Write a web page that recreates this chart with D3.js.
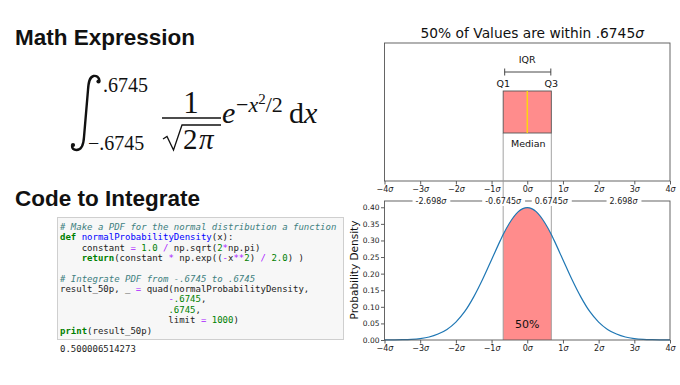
<!DOCTYPE html>
<html>
<head>
<meta charset="utf-8">
<script src="https://cdnjs.cloudflare.com/ajax/libs/d3/7.8.5/d3.min.js"></script>
<style>
  body { margin: 0; background: white; }
  svg { display: block; }
</style>
</head>
<body>
<svg id="slide" width="680" height="385"></svg>
<script>
// datos
const sigmaTicks = [-4, -3, -2, -1, 0, 1, 2, 3, 4]
const densityTicks = [0, 0.05, 0.10, 0.15, 0.20, 0.25, 0.30, 0.35, 0.40]
const refTicks = [-2.698, -0.6745, 0.6745, 2.698]
const refLabels = ['-2.698', '-0.6745', '0.6745', '2.698']
const boxValues = [-0.6745, 0, 0.6745] // Q1, mediana, Q3
// curva (x en sigmas, densidad)
const curveX = [-4, -3.75, -3.5, -3.25, -3, -2.75, -2.5, -2.25, -2, -1.75, -1.5, -1.25, -1, -0.75, -0.6745, -0.5, -0.25, 0,
                0.25, 0.5, 0.6745, 0.75, 1, 1.25, 1.5, 1.75, 2, 2.25, 2.5, 2.75, 3, 3.25, 3.5, 3.75, 4]
const curveY = [0.0001, 0.0004, 0.0009, 0.002, 0.0044, 0.009, 0.018, 0.032, 0.054, 0.086, 0.130, 0.183, 0.242, 0.301, 0.318, 0.352, 0.387, 0.399,
                0.387, 0.352, 0.318, 0.301, 0.242, 0.183, 0.130, 0.086, 0.054, 0.032, 0.018, 0.009, 0.0044, 0.002, 0.0009, 0.0004, 0.0001]
const areaLabel = '50%'

// codigo python (texto, estilo)
const codeLines = [
  [['# Make a PDF for the normal distribution a function', 'c']],
  [['def', 'k'], [' ', 'n'], ['normalProbabilityDensity', 'f'], ['(x):', 'n']],
  [['    constant ', 'n'], ['=', 'o'], [' ', 'n'], ['1.0', 'm'], [' ', 'n'], ['/', 'o'], [' np.sqrt(', 'n'], ['2', 'm'], ['*', 'o'], ['np.pi)', 'n']],
  [['    ', 'n'], ['return', 'k'], ['(constant ', 'n'], ['*', 'o'], [' np.exp((', 'n'], ['-', 'o'], ['x', 'n'], ['**', 'o'], ['2', 'm'], [') ', 'n'], ['/', 'o'], [' ', 'n'], ['2.0', 'm'], [') )', 'n']],
  [],
  [['# Integrate PDF from -.6745 to .6745', 'c']],
  [['result_50p, _ ', 'n'], ['=', 'o'], [' quad(normalProbabilityDensity,', 'n']],
  [['                    ', 'n'], ['-', 'o'], ['.6745', 'm'], [',', 'n']],
  [['                    ', 'n'], ['.6745', 'm'], [',', 'n']],
  [['                    limit ', 'n'], ['=', 'o'], [' ', 'n'], ['1000', 'm'], [')', 'n']],
  [['print', 'k'], ['(result_50p)', 'n']]
]
const codeOutput = '0.500006514273'

const svg = d3.select('#slide')
svg.append('rect').attr('width', 680).attr('height', 385).attr('fill', 'white')

// ---------------- lado izquierdo ----------------
const heading = (txt, y) => svg.append('text')
    .attr('x', 15).attr('y', y)
    .attr('font-family', 'Liberation Sans, Arial, sans-serif')
    .attr('font-weight', 'bold')
    .attr('font-size', 22.5)
    .attr('fill', '#111')
    .text(txt)

heading('Math Expression', 45)
heading('Code to Integrate', 206)

// formula
const math = svg.append('g')
    .attr('font-family', 'Liberation Serif, Times New Roman, serif')
    .attr('fill', '#111')

math.append('path') // signo integral
    .attr('d', 'M99.5,81 C99,77 96.5,75.5 93.5,76 C89.5,77 88.5,82 88,90 L84,137 C83.5,146 80.5,150 76.5,150 C73.5,150 72,148.5 72,145.5')
    .attr('fill', 'none').attr('stroke', '#111').attr('stroke-width', 2.4)
math.append('circle').attr('cx', 98.5).attr('cy', 81.5).attr('r', 2.1).attr('fill', '#111')
math.append('circle').attr('cx', 73).attr('cy', 145).attr('r', 2.1).attr('fill', '#111')

math.append('text').attr('x', 103).attr('y', 92).attr('font-size', 20).text('.6745')
math.append('text').attr('x', 88).attr('y', 150).attr('font-size', 20).text('−.6745')
math.append('text').attr('x', 191).attr('y', 113).attr('font-size', 31).attr('text-anchor', 'middle').text('1')
math.append('line').attr('x1', 162).attr('x2', 221).attr('y1', 118).attr('y2', 118)
    .attr('stroke', '#111').attr('stroke-width', 1.3)
math.append('path')
    .attr('d', 'M163,139 L167,136.5 L173.5,150 L182,125 L221,125')
    .attr('fill', 'none').attr('stroke', '#111').attr('stroke-width', 1.3)
math.append('text').attr('x', 183).attr('y', 149).attr('font-size', 29).text('2')
math.append('text').attr('x', 199).attr('y', 149).attr('font-size', 29).attr('font-style', 'italic').text('π')
math.append('text').attr('x', 222).attr('y', 123).attr('font-size', 30).attr('font-style', 'italic').text('e')
const expo = math.append('text').attr('x', 236).attr('y', 112).attr('font-size', 22)
expo.append('tspan').text('−')
expo.append('tspan').attr('font-style', 'italic').text('x')
expo.append('tspan').attr('font-size', 15).attr('dy', -8).text('2')
expo.append('tspan').attr('dy', 8).text('/2')
const dx = math.append('text').attr('x', 289).attr('y', 123).attr('font-size', 30)
dx.append('tspan').text('d')
dx.append('tspan').attr('font-style', 'italic').text('x')

// celda de codigo
svg.append('rect')
    .attr('x', 57.5).attr('y', 217.5).attr('width', 286).attr('height', 122)
    .attr('fill', '#f7f7f7').attr('stroke', '#cfcfcf')

const tokenStyle = {
  n: { fill: '#222', weight: 'normal', style: 'normal' },
  c: { fill: '#408080', weight: 'normal', style: 'italic' },
  k: { fill: '#008000', weight: 'bold', style: 'normal' },
  f: { fill: '#0000ff', weight: 'normal', style: 'normal' },
  m: { fill: '#008000', weight: 'normal', style: 'normal' },
  o: { fill: '#aa22ff', weight: 'normal', style: 'normal' }
}

const code = svg.append('g')
    .attr('font-family', 'DejaVu Sans Mono, monospace')
    .attr('font-size', 9)

codeLines.forEach((tokens, i) => {
  const t = code.append('text')
      .attr('x', 60).attr('y', 230 + i * 10.35)
      .style('white-space', 'pre')
  tokens.forEach(([txt, s]) => {
    t.append('tspan')
        .attr('fill', tokenStyle[s].fill)
        .attr('font-weight', tokenStyle[s].weight)
        .attr('font-style', tokenStyle[s].style)
        .text(txt)
  })
})

svg.append('text')
    .attr('x', 60).attr('y', 352)
    .attr('font-family', 'DejaVu Sans Mono, monospace')
    .attr('font-size', 9).attr('fill', '#222')
    .text(codeOutput)

// ---------------- graficos ----------------
const plotLeft = 384.5
const plotRight = 670
const fontMpl = 'DejaVu Sans, sans-serif'

const xScale = d3.scaleLinear().domain([-4, 4]).range([plotLeft, plotRight])

const sigmaLabel = (sel) => {
  sel.selectAll('.tick text').each(function (d) {
    const t = d3.select(this)
    t.text(null)
    t.append('tspan').text(d < 0 ? '−' + Math.abs(d) : d)
    t.append('tspan').attr('font-style', 'italic').text('σ')
  })
}

const styleAxis = (g) => {
  g.attr('font-family', fontMpl).attr('font-size', 8)
  g.select('.domain').remove()
  g.selectAll('.tick line').attr('stroke', '#333').attr('stroke-width', 0.8)
  g.selectAll('.tick text').attr('fill', '#222')
}

// grafico de caja (arriba)
const topY0 = 43
const topY1 = 181

svg.append('text')
    .attr('x', (plotLeft + plotRight) / 2 + 5).attr('y', 38)
    .attr('text-anchor', 'middle')
    .attr('font-family', fontMpl).attr('font-size', 13.8).attr('fill', '#111')
    .call(t => {
      t.append('tspan').text('50% of Values are within .6745')
      t.append('tspan').attr('font-style', 'italic').text('σ')
    })

svg.append('g')
    .attr('transform', `translate(0, ${topY1})`)
    .call(d3.axisBottom(xScale).tickValues(sigmaTicks).tickSize(3.5).tickPadding(1.5))
    .call(styleAxis)
    .call(sigmaLabel)

svg.append('rect')
    .attr('x', plotLeft).attr('y', topY0)
    .attr('width', plotRight - plotLeft).attr('height', topY1 - topY0)
    .attr('fill', 'none').attr('stroke', '#555').attr('stroke-width', 0.9)

const [q1, med, q3] = boxValues
const boxTop = 91
const boxBottom = 133

// grafico de densidad (abajo)
const botY0 = 201
const botY1 = 340
const yScale = d3.scaleLinear().domain([0, 0.4189]).range([botY1, botY0])

const curveData = curveX.map((x, i) => ({ x, y: curveY[i] }))
const fillData = curveData.filter(d => d.x >= q1 && d.x <= q3)

svg.append('path')
    .datum(fillData)
    .attr('d', d3.area().x(d => xScale(d.x)).y0(yScale(0)).y1(d => yScale(d.y)).curve(d3.curveMonotoneX))
    .attr('fill', '#ff8c8c')

// lineas de conexion Q1/Q3
svg.selectAll('line.link').data([q1, q3])
  .enter().append('line')
    .attr('class', 'link')
    .attr('x1', d => xScale(d)).attr('x2', d => xScale(d))
    .attr('y1', boxBottom).attr('y2', botY1)
    .attr('stroke', '#999').attr('stroke-width', 0.9)

svg.append('path')
    .datum(curveData)
    .attr('d', d3.line().x(d => xScale(d.x)).y(d => yScale(d.y)).curve(d3.curveMonotoneX))
    .attr('fill', 'none')
    .attr('stroke', '#1f77b4')
    .attr('stroke-width', 1.2)

svg.append('text')
    .attr('x', xScale(med)).attr('y', 328)
    .attr('text-anchor', 'middle')
    .attr('font-family', fontMpl).attr('font-size', 11).attr('fill', '#111')
    .text(areaLabel)

// caja
svg.append('rect')
    .attr('x', xScale(q1)).attr('y', boxTop)
    .attr('width', xScale(q3) - xScale(q1)).attr('height', boxBottom - boxTop)
    .attr('fill', '#ff8c8c').attr('stroke', '#555').attr('stroke-width', 0.9)
svg.append('line')
    .attr('x1', xScale(med)).attr('x2', xScale(med))
    .attr('y1', boxTop).attr('y2', boxBottom)
    .attr('stroke', '#ffdd00').attr('stroke-width', 1.3)

const annot = svg.append('g')
    .attr('font-family', fontMpl).attr('font-size', 9.5).attr('fill', '#111')
    .attr('text-anchor', 'middle')
annot.append('text').attr('x', xScale(med)).attr('y', 63).text('IQR')
annot.append('text').attr('x', xScale(q1)).attr('y', 87).text('Q1')
annot.append('text').attr('x', xScale(q3)).attr('y', 87).text('Q3')
annot.append('text').attr('x', xScale(med) + 1).attr('y', 147).text('Median')

const bracket = svg.append('g').attr('stroke', '#333').attr('stroke-width', 0.9)
bracket.append('line').attr('x1', xScale(q1) + 1.5).attr('x2', xScale(q3) - 0.5).attr('y1', 72).attr('y2', 72)
bracket.selectAll('line.end').data([xScale(q1) + 1.5, xScale(q3) - 0.5])
  .enter().append('line').attr('class', 'end')
    .attr('x1', d => d).attr('x2', d => d).attr('y1', 68.5).attr('y2', 75.5)

// ejes abajo
svg.append('g')
    .attr('transform', `translate(0, ${botY1})`)
    .call(d3.axisBottom(xScale).tickValues(sigmaTicks).tickSize(3.5).tickPadding(1.5))
    .call(styleAxis)
    .call(sigmaLabel)

svg.append('g')
    .attr('transform', `translate(${plotLeft}, 0)`)
    .call(d3.axisLeft(yScale).tickValues(densityTicks).tickFormat(d3.format('.2f')).tickSize(3.5).tickPadding(1.5))
    .call(styleAxis)
    .attr('font-size', 7.5)

svg.append('rect')
    .attr('x', plotLeft).attr('y', botY0)
    .attr('width', plotRight - plotLeft).attr('height', botY1 - botY0)
    .attr('fill', 'none').attr('stroke', '#555').attr('stroke-width', 0.9)

// etiquetas de referencia sobre el borde superior
const refs = svg.append('g')
    .attr('font-family', fontMpl).attr('font-size', 8).attr('fill', '#222')
refTicks.forEach((v, i) => {
  const t = refs.append('text')
      .attr('x', xScale(v)).attr('y', botY0 + 3)
      .attr('text-anchor', 'middle')
  t.append('tspan').text(refLabels[i])
  t.append('tspan').attr('font-style', 'italic').text('σ')
  const bb = t.node().getBBox()
  refs.insert('rect', 'text')
      .attr('x', bb.x - 3).attr('y', bb.y)
      .attr('width', bb.width + 6).attr('height', bb.height)
      .attr('fill', 'white')
})

svg.append('text')
    .attr('transform', 'translate(358, 270) rotate(-90)')
    .attr('text-anchor', 'middle')
    .attr('font-family', fontMpl).attr('font-size', 10.5).attr('fill', '#111')
    .text('Probability Density')
</script>
</body>
</html>
